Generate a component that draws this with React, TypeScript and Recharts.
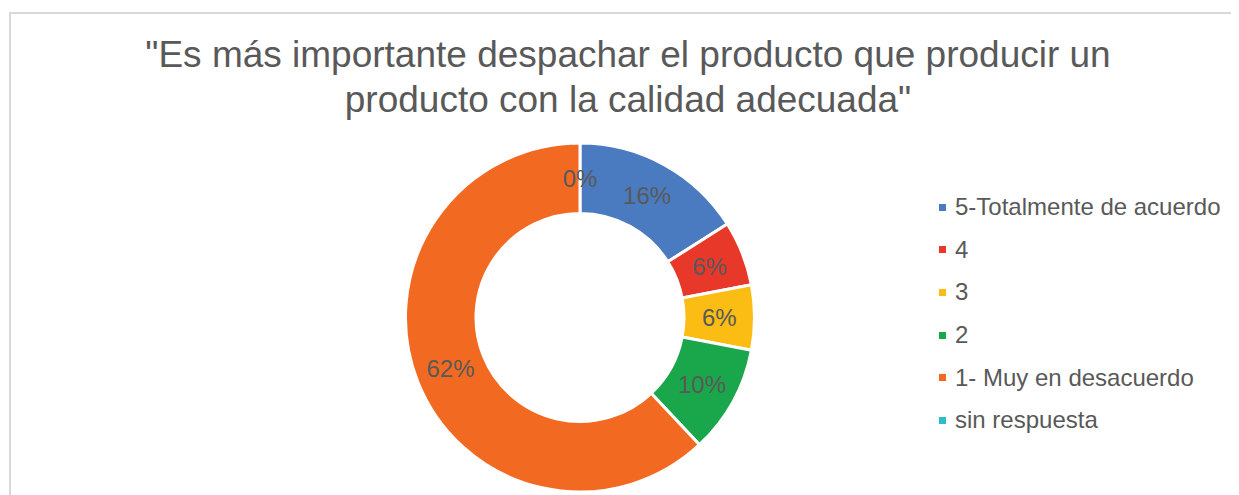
import React from "react";
import { PieChart, Pie, Cell, Legend } from "recharts";

const categories = [
  "5-Totalmente de acuerdo",
  "4",
  "3",
  "2",
  "1- Muy en desacuerdo",
  "sin respuesta",
];
const counts = [8, 3, 3, 5, 31, 0];
const colors = ["#4A7BC0", "#E8382A", "#FBBC14", "#1AA64A", "#F26A22", "#2DBDC6"];
const titleLines = [
  "\"Es más importante despachar el producto que producir un",
  "producto con la calidad adecuada\"",
];

const data = categories.map((name, i) => ({ name, value: counts[i] }));
const RAD = Math.PI / 180;
const FONT = "'Liberation Sans', Arial, sans-serif";

const renderLabel = (props: any) => {
  const { cx, cy, midAngle, innerRadius, outerRadius, percent } = props;
  const r = (innerRadius + outerRadius) / 2;
  const x = cx + r * Math.cos(-midAngle * RAD);
  const y = cy + r * Math.sin(-midAngle * RAD);
  return (
    <text
      x={x}
      y={y}
      fill="#595959"
      fontSize={24}
      fontFamily={FONT}
      textAnchor="middle"
      dominantBaseline="central"
    >
      {Math.round((percent || 0) * 100) + "%"}
    </text>
  );
};

const renderLegend = () => {
  return (
    <div style={{ fontFamily: FONT }}>
      {categories.map((name, i) => (
        <div
          key={i}
          style={{
            display: "flex",
            alignItems: "center",
            height: 42.6,
            fontSize: 24,
            color: "#595959",
            whiteSpace: "nowrap",
          }}
        >
          <span
            style={{
              display: "inline-block",
              width: 7,
              height: 7,
              background: colors[i],
              marginRight: 9,
            }}
          />
          <span>{name}</span>
        </div>
      ))}
    </div>
  );
};

export default function App() {
  return (
    <div
      style={{
        position: "relative",
        width: 1231,
        height: 487,
        overflow: "hidden",
        background: "#fff",
        fontFamily: FONT,
      }}
    >
      <div
        style={{
          position: "absolute",
          left: 1,
          top: 4,
          width: 1300,
          height: 600,
          border: "2px solid #d9d9d9",
          boxSizing: "border-box",
        }}
      />
      <div
        style={{
          position: "absolute",
          left: 0,
          top: 24,
          width: 1240,
          textAlign: "center",
          fontSize: 37,
          lineHeight: "45px",
          color: "#595959",
          whiteSpace: "nowrap",
        }}
      >
        {titleLines.map((l, i) => (
          <div key={i}>{l}</div>
        ))}
      </div>
      <div style={{ position: "absolute", left: 0, top: 0 }}>
        <PieChart
          width={1231}
          height={487}
          margin={{ top: 0, right: 0, bottom: 0, left: 0 }}
        >
          <Pie
            data={data}
            dataKey="value"
            nameKey="name"
            cx={572}
            cy={309.5}
            innerRadius={104}
            outerRadius={174.5}
            startAngle={90}
            endAngle={-270}
            stroke="#ffffff"
            strokeWidth={3}
            label={renderLabel}
            labelLine={false}
            isAnimationActive={false}
          >
            {data.map((d, i) => (
              <Cell key={i} fill={colors[i]} />
            ))}
          </Pie>
          <Legend
            content={renderLegend}
            wrapperStyle={{ position: "absolute", left: 931, top: 178, width: 300 }}
          />
        </PieChart>
      </div>
    </div>
  );
}
